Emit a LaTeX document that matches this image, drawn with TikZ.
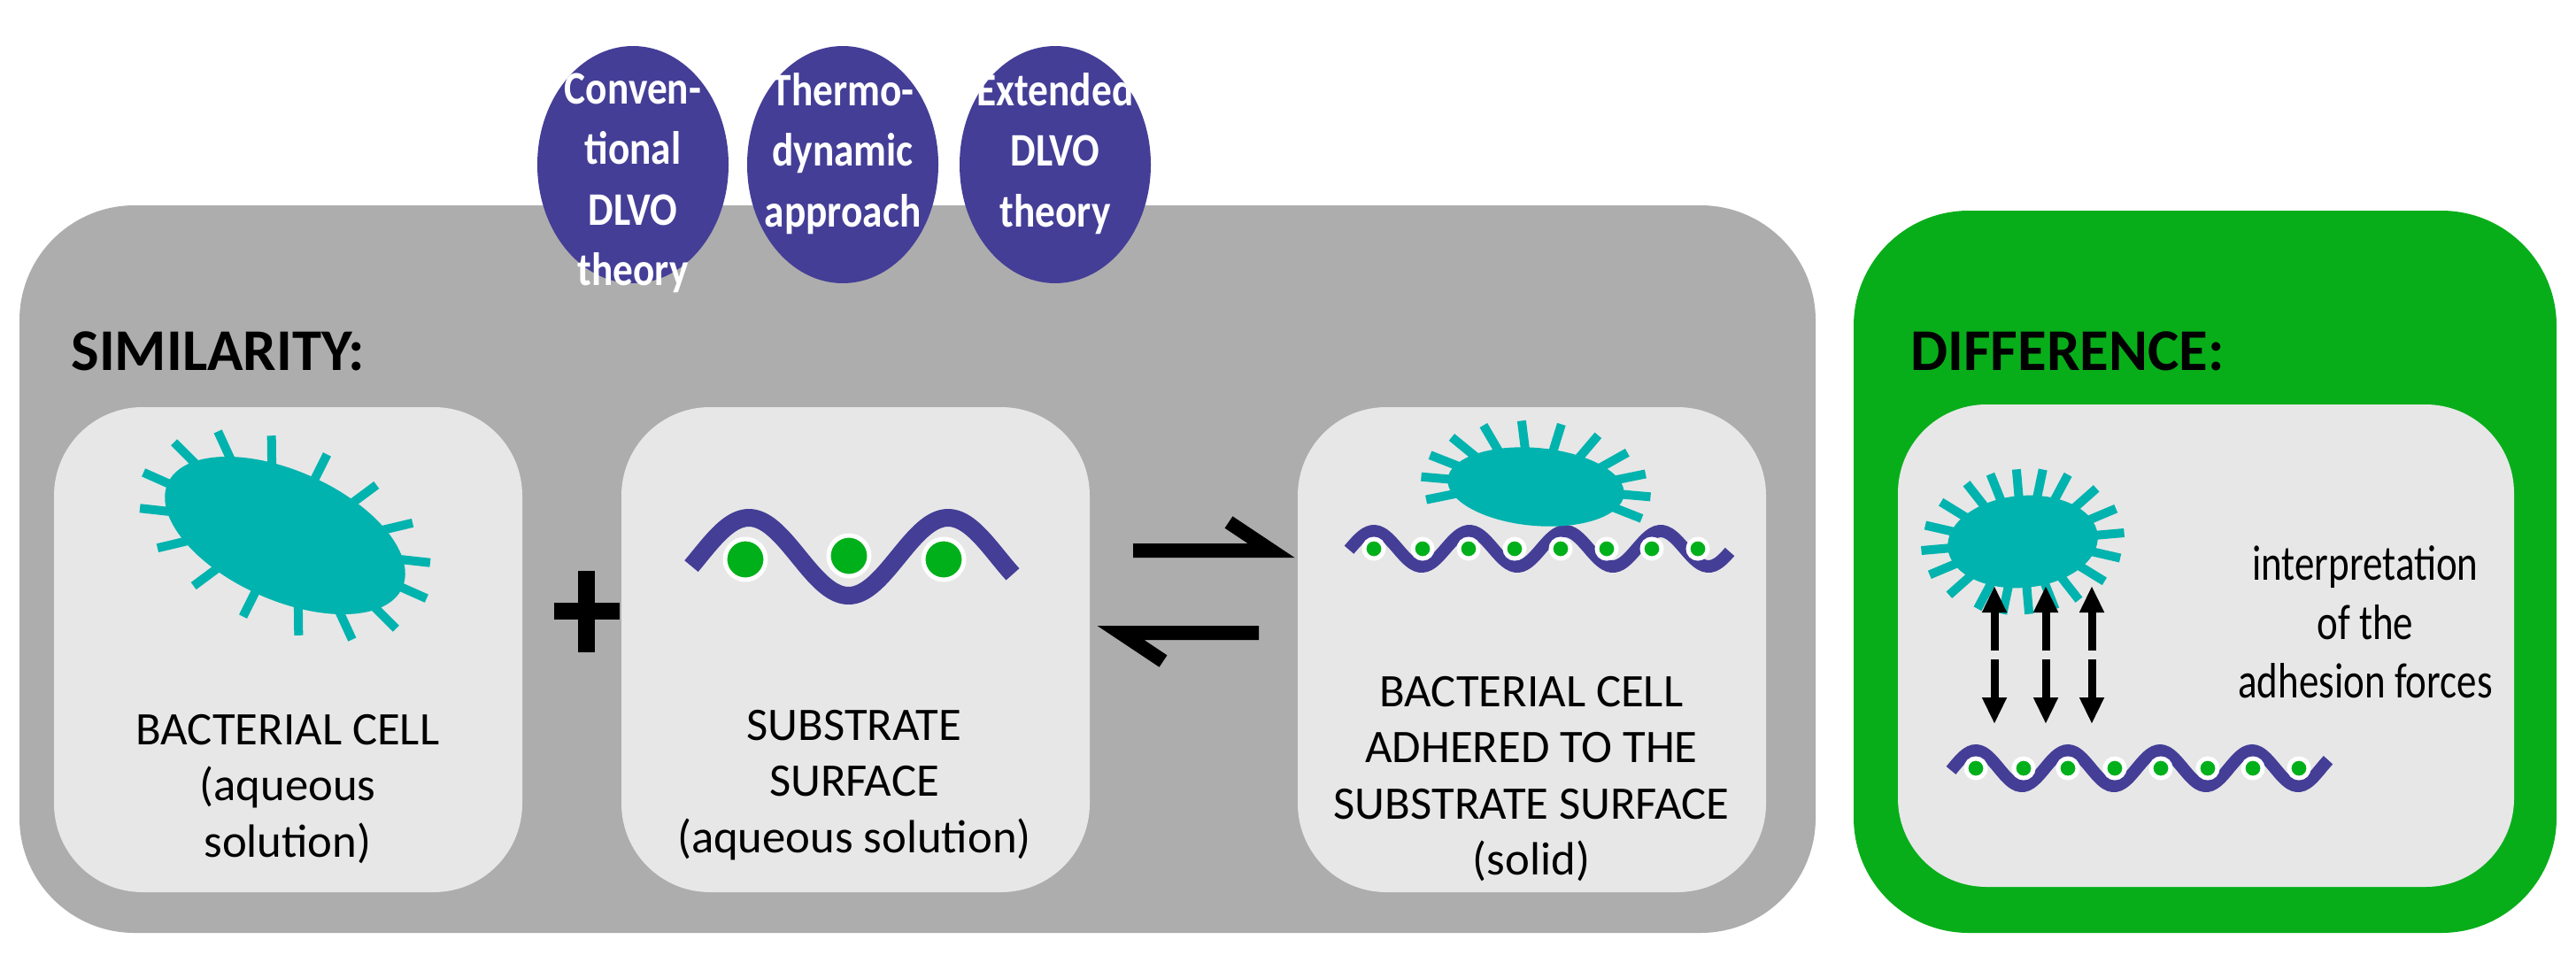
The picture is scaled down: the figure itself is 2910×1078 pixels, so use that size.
\documentclass[tikz,border=0pt]{standalone}
\usepackage{fontspec}
\setmainfont{Carlito}
\usetikzlibrary{arrows.meta}
\definecolor{boxgray}{HTML}{ADADAD}
\definecolor{inner}{HTML}{E7E7E7}
\definecolor{purp}{HTML}{443E97}
\definecolor{bteal}{HTML}{00B3AE}
\definecolor{bgreen}{HTML}{08AE1A}
\definecolor{dgreen}{HTML}{00B01A}
\tikzset{
  panel/.style={fill=inner, rounded corners=10mm},
  wave/.style={draw=purp, line width=#1, line cap=butt},
  spike/.style={draw=bteal, line width=1mm},
  theory/.style={fill=purp},
  ctext/.style={text=white, font=\fontsize{15}{19.5}\selectfont\bfseries, align=center, anchor=north, xscale=0.86, transform shape},
  btext/.style={font=\fontsize{15}{18}\selectfont, align=center, anchor=north},
  head/.style={font=\fontsize{19}{22}\selectfont\bfseries, anchor=base west},
  dot/.style={fill=dgreen, draw=white, line width=0.5mm},
  force/.style={line width=0.9mm, -{Triangle[length=3mm,width=2.6mm]}},
  harpoon/.style={line width=1.6mm}
}
\newcommand\bact[6]{%
\begin{scope}[shift={(#1,#2)},rotate=#5]
\foreach \t in {#6} \draw[spike] ({0.85*#3*cos(\t)*1mm},{0.85*#4*sin(\t)*1mm}) -- ({(#3+3)*cos(\t)*1mm},{(#4+3)*sin(\t)*1mm});
\fill[bteal] (0,0) ellipse [x radius=#3mm, y radius=#4mm];
\end{scope}}
\begin{document}
\begin{tikzpicture}[x=0.1mm,y=-0.1mm]
\useasboundingbox (0,0) rectangle (2910,1078);
\fill[white] (0,0) rectangle (2910,1078);
% outer boxes
\fill[boxgray, rounded corners=13mm] (22,232) rectangle (2051,1054);
\fill[bgreen, rounded corners=13mm] (2094,238) rectangle (2888,1054);
% theory circles
\fill[theory] (715,186) ellipse [x radius=10.8mm, y radius=13.4mm];
\fill[theory] (952,186) ellipse [x radius=10.8mm, y radius=13.4mm];
\fill[theory] (1192,186) ellipse [x radius=10.8mm, y radius=13.4mm];
\node[ctext] (c1) at (715,70) {Conven-\\tional\\DLVO\\theory};
\node[ctext] (c2) at (952,70) {Thermo-\\dynamic\\approach};
\node[ctext] (c3) at (1192,70) {Extended\\DLVO\\theory};
% headings
\node[head] (sim) at (68,418) {SIMILARITY:};
\node[head] (dif) at (2146,418) {DIFFERENCE:};
% inner panels
\fill[panel] (61,460) rectangle (590,1008);
\fill[panel] (702,460) rectangle (1231,1008);
\fill[panel] (1466,460) rectangle (1995,1008);
\fill[panel] (2144,457) rectangle (2840,1002);
% box 1
\bact{322}{605}{14.5}{7.3}{-24}{0,22,44,66,88,110,132,154,180,202,224,246,268,290,312,334}
\node[btext] (t1) at (325,795) {BACTERIAL CELL\\(aqueous\\solution)};
% plus
\fill[black] (626,681) rectangle (700,700);
\fill[black] (653,645) rectangle (672,737);
\node[inner sep=0] (plus) at (663,690) {};
% box 2 substrate
\draw[wave=2mm] plot[domain=781:1144,samples=80,smooth] (\x,{629-44*cos(1.6*(\x-846))});
\fill[dot] (842,632) circle [radius=2.3mm];
\fill[dot] (959,628) circle [radius=2.3mm];
\fill[dot] (1066,632) circle [radius=2.3mm];
\node[btext] (t2) at (965,790) {SUBSTRATE\\SURFACE\\(aqueous solution)};
% equilibrium arrows
\draw[harpoon] (1280,622) -- (1436,622) -- (1388,590);
\draw[harpoon] (1422,715) -- (1266,715) -- (1314,747);
% box 3
\draw[wave=1.4mm] plot[domain=1524:1954,samples=120,smooth] (\x,{620-20*cos(3.3333*(\x-1552))});
\foreach \xx in {1552,1607,1659,1711,1763,1815,1866,1918} \fill[dot] (\xx,620) circle [radius=1.1mm];
\bact{1735}{550}{10}{4.4}{-5}{20,40,60,80,100,120,140,160,180,200,340,0}
\node[btext] (t3) at (1730,752) {BACTERIAL CELL\\ADHERED TO THE\\SUBSTRATE SURFACE\\(solid)};
% green box
\bact{2285}{612}{8.5}{5.2}{5}{0,20,40,60,75,90,105,120,140,160,180,200,220,240,255,270,285,300,320,340}
\foreach \xx in {2253,2311,2363}{
  \draw[force] (\xx,735) -- (\xx,662);
  \draw[force] (\xx,745) -- (\xx,818);
}
\draw[wave=1.4mm] plot[domain=2204:2630,samples=120,smooth] (\x,{868-20*cos(3.4615*(\x-2232))});
\foreach \xx in {2232,2286,2336,2389,2441,2494,2545,2597} \fill[dot] (\xx,868) circle [radius=1.1mm];
\node[btext, font=\fontsize{16}{19}\selectfont, xscale=0.8, transform shape] (t4) at (2672,604) {interpretation\\of the\\adhesion forces};
\end{tikzpicture}
\end{document}
